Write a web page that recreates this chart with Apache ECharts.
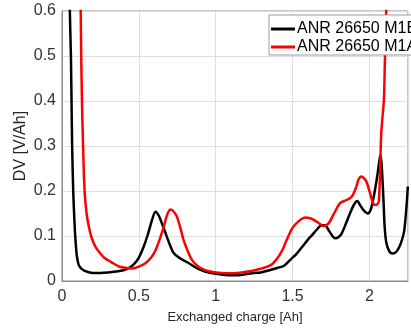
<!DOCTYPE html>
<html><head><meta charset="utf-8">
<script src="https://cdn.jsdelivr.net/npm/echarts@6/dist/echarts.min.js"></script>
<style>html,body{margin:0;padding:0;background:#fff}#c{width:411px;height:329px}</style>
</head><body><div id="c"></div>
<script>
const seriesNames = ['ANR 26650 M1B', 'ANR 26650 M1A'];
const xTicks = [0, 0.5, 1, 1.5, 2];
const yTicks = [0, 0.1, 0.2, 0.3, 0.4, 0.5, 0.6];
const m1bX = [0.040,0.051,0.058,0.062,0.066,0.073,0.080,0.086,0.095,0.105,0.116,0.14,0.17,0.20,0.25,0.30,0.35,0.40,0.437,0.47,0.50,0.53,0.56,0.585,0.609,0.63,0.65,0.673,0.70,0.727,0.77,0.823,0.88,0.93,1.00,1.08,1.15,1.25,1.29,1.35,1.40,1.445,1.50,1.52,1.563,1.60,1.627,1.66,1.69,1.71,1.74,1.777,1.80,1.82,1.85,1.873,1.90,1.921,1.94,1.96,1.99,2.01,2.024,2.045,2.06,2.071,2.078,2.084,2.092,2.099,2.11,2.131,2.152,2.175,2.195,2.215,2.227,2.24,2.25];
const m1bY = [0.9,0.60,0.50,0.40,0.30,0.20,0.14,0.10,0.06,0.04,0.031,0.024,0.020,0.018,0.018,0.019,0.021,0.024,0.029,0.038,0.052,0.075,0.105,0.135,0.154,0.145,0.128,0.107,0.082,0.062,0.050,0.040,0.028,0.021,0.016,0.013,0.013,0.018,0.019,0.024,0.029,0.034,0.052,0.058,0.076,0.092,0.102,0.115,0.124,0.124,0.110,0.095,0.098,0.106,0.130,0.150,0.170,0.178,0.168,0.158,0.150,0.160,0.180,0.220,0.255,0.280,0.265,0.232,0.175,0.121,0.085,0.065,0.061,0.065,0.076,0.095,0.113,0.160,0.21];
const m1aX = [0.118,0.122,0.125,0.130,0.137,0.147,0.16,0.175,0.191,0.205,0.223,0.25,0.277,0.32,0.373,0.42,0.459,0.50,0.545,0.58,0.609,0.635,0.662,0.685,0.705,0.725,0.748,0.77,0.791,0.82,0.845,0.88,0.93,0.98,1.035,1.10,1.209,1.28,1.36,1.40,1.434,1.46,1.498,1.54,1.584,1.61,1.638,1.67,1.70,1.734,1.77,1.809,1.85,1.884,1.91,1.93,1.949,1.965,1.98,2.00,2.024,2.04,2.055,2.062,2.07,2.077,2.094,2.10,2.109,2.115];
const m1aY = [0.9,0.60,0.50,0.40,0.30,0.20,0.15,0.12,0.098,0.085,0.073,0.061,0.051,0.042,0.032,0.029,0.028,0.032,0.040,0.052,0.069,0.092,0.121,0.148,0.159,0.155,0.143,0.118,0.091,0.065,0.047,0.034,0.024,0.020,0.018,0.017,0.021,0.026,0.036,0.050,0.069,0.090,0.117,0.133,0.141,0.140,0.136,0.129,0.122,0.128,0.150,0.173,0.180,0.187,0.205,0.226,0.232,0.228,0.221,0.200,0.173,0.169,0.172,0.180,0.250,0.329,0.402,0.48,0.60,0.75];

const pair = (xs, ys) => xs.map((x, i) => [x, ys[i]]);
const font = 'Liberation Sans';
const chart = echarts.init(document.getElementById('c'), null, {renderer: 'canvas'});
chart.setOption({
  animation: false,
  backgroundColor: '#fff',
  grid: {left: 62, top: 11, right: -1, bottom: 48, show: true, borderColor: '#8a8a8a', borderWidth: 1, backgroundColor: 'transparent'},
  legend: {
    orient: 'vertical', left: 269, top: 15, data: seriesNames,
    backgroundColor: '#fff', borderColor: '#9a9a9a', borderWidth: 1, padding: [6, 4, 0, 2],
    itemWidth: 24, itemHeight: 3, itemGap: 2, icon: 'rect',
    textStyle: {fontFamily: font, fontSize: 16, lineHeight: 14, color: '#000', padding: [0, 0, 0, -3]}
  },
  xAxis: {
    type: 'value', min: 0, max: 2.251, interval: 0.5,
    name: 'Exchanged charge [Ah]', nameLocation: 'middle', nameGap: 30,
    nameTextStyle: {fontFamily: font, fontSize: 13, color: '#262626'},
    axisLine: {show: true, lineStyle: {color: '#8a8a8a'}},
    axisTick: {show: false},
    splitLine: {show: true, lineStyle: {color: '#dedede'}},
    axisLabel: {fontFamily: font, fontSize: 16, color: '#333', margin: 8,
      formatter: v => xTicks.some(t => Math.abs(t - v) < 1e-6) ? String(v) : ''}
  },
  yAxis: {
    type: 'value', min: 0, max: 0.6, interval: 0.1,
    name: 'DV [V/Ah]', nameLocation: 'middle', nameGap: 33, nameMoveOverlap: false,
    nameTextStyle: {fontFamily: font, fontSize: 16, color: '#262626'},
    axisLine: {show: true, lineStyle: {color: '#8a8a8a'}},
    axisTick: {show: false},
    splitLine: {show: true, lineStyle: {color: '#dedede'}},
    axisLabel: {fontFamily: font, fontSize: 16, color: '#333', margin: 6,
      formatter: v => yTicks.some(t => Math.abs(t - v) < 1e-6) ? String(Math.round(v*10)/10) : ''}
  },
  series: [
    {name: seriesNames[0], type: 'line', data: pair(m1bX, m1bY), showSymbol: false, smooth: 0.3, clip: true,
     lineStyle: {color: '#000', width: 2.5}, itemStyle: {color: '#000'}},
    {name: seriesNames[1], type: 'line', data: pair(m1aX, m1aY), showSymbol: false, smooth: 0.3, clip: true,
     lineStyle: {color: '#ff0000', width: 2.5}, itemStyle: {color: '#ff0000'}}
  ]
});
</script></body></html>
